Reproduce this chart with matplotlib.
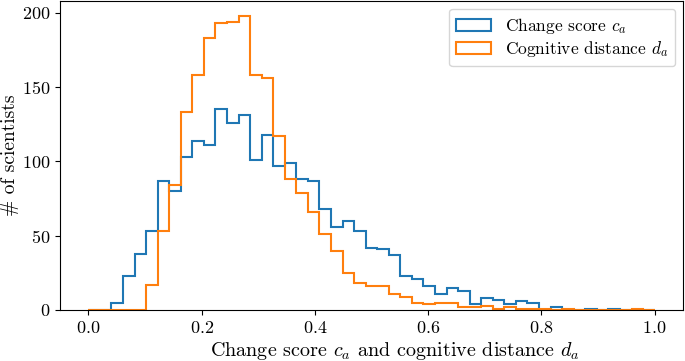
import numpy as np
import matplotlib
matplotlib.use("Agg")
import matplotlib.pyplot as plt

plt.rcParams['font.family'] = 'serif'
plt.rcParams['font.serif'] = ['cmr10']
plt.rcParams['mathtext.fontset'] = 'cm'
plt.rcParams['axes.formatter.use_mathtext'] = True
plt.rcParams['font.size'] = 13

# 49 equal bins over [0, 1]
bin_edges = np.linspace(0.0, 1.0, 50)

change_score_counts = [0, 0, 5, 23, 38, 53, 87, 80, 103, 114,
                       111, 135, 126, 131, 101, 118, 97, 99, 88, 87,
                       68, 56, 60, 53, 42, 41, 37, 23, 21, 16,
                       11, 15, 13, 4, 8, 7, 4, 6, 5, 0,
                       2, 0, 0, 1, 0, 1, 0, 0, 0]

cognitive_distance_counts = [0, 0, 0, 0, 0, 17, 53, 84, 133, 158,
                             183, 193, 194, 198, 158, 156, 117, 88, 79, 66,
                             51, 40, 25, 18, 16, 16, 11, 9, 5, 4,
                             5, 5, 2, 2, 3, 1, 2, 1, 1, 1,
                             0, 1, 0, 0, 0, 0, 0, 1, 0]

labels = ["Change score $c_a$", "Cognitive distance $d_a$"]
colors = ["#1f77b4", "#ff7f0e"]

centers = 0.5 * (bin_edges[:-1] + bin_edges[1:])

fig = plt.figure(figsize=(6.85, 3.61), dpi=100)
ax = fig.add_axes([0.0876, 0.1413, 0.9094, 0.8557])

for counts, lab, col in zip([change_score_counts, cognitive_distance_counts], labels, colors):
    ax.hist(centers, bins=bin_edges, weights=counts, histtype='step',
            color=col, linewidth=1.5, label=lab)

ax.set_xlabel("Change score $c_a$ and cognitive distance $d_a$", fontsize=14.5, labelpad=3)
ax.xaxis.label.set_x(0.537)
ax.set_ylabel("# of scientists", fontsize=14, labelpad=2)
ax.set_xticks([0.0, 0.2, 0.4, 0.6, 0.8, 1.0])
ax.set_yticks([0, 50, 100, 150, 200])
ax.legend(loc='upper right', fontsize=12.5, labelspacing=0.2, borderaxespad=0.45)

fig.savefig("out.png", dpi=100)
